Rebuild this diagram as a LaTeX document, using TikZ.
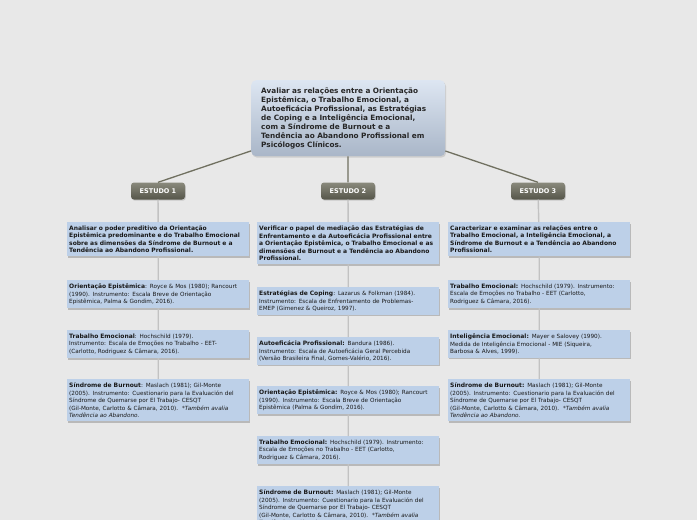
\documentclass[tikz,border=0pt]{standalone}
\usepackage{fontspec}
\setmainfont{DejaVu Sans}
\usetikzlibrary{shadows}

\definecolor{bgpage}{HTML}{E8E8E8}
\definecolor{boxblue}{HTML}{BDD0E8}
\definecolor{stemcol}{HTML}{C2C2C2}
\definecolor{trunkcol}{HTML}{707060}
\definecolor{studytop}{HTML}{8A8A7C}
\definecolor{studybot}{HTML}{55554A}
\definecolor{goaltop}{HTML}{DDE6F2}
\definecolor{goalbot}{HTML}{A9B6C8}

\newcommand{\hdr}[1]{{\fontsize{6}{7.5}\selectfont\bfseries #1}}

\begin{document}
\begin{tikzpicture}[
    x=1pt, y=-1pt,
    goal/.style={rounded corners=5pt, top color=goaltop, bottom color=goalbot, anchor=north west,
      minimum height=76pt, inner xsep=10pt, text width=174pt, align=left, text=black!85,
      font=\fontsize{7.3}{9}\selectfont\bfseries,
      drop shadow={shadow xshift=1pt, shadow yshift=-1.5pt, opacity=0.25}},
    study/.style={rounded corners=3pt, top color=studytop, bottom color=studybot,
      minimum width=54pt, minimum height=17pt, inner sep=1pt, text=white,
      font=\fontsize{6.5}{7}\selectfont\bfseries,
      drop shadow={shadow xshift=0.8pt, shadow yshift=-1.2pt, opacity=0.3}},
    card/.style={fill=boxblue, anchor=north west, inner xsep=2pt, inner ysep=3.5pt,
      text width=178pt, align=left, text=black!90,
      drop shadow={shadow xshift=0.7pt, shadow yshift=-1.6pt, fill=black!50, opacity=0.45}},
    aim/.style={card, font=\fontsize{6}{7.5}\selectfont\bfseries},
    ref/.style={card, font=\fontsize{5.7}{7.5}\selectfont},
    trunk/.style={draw=trunkcol, line width=1.3pt},
    stem/.style={draw=stemcol, line width=1.4pt},
  ]
    \clip (0,0) rectangle (697,520);
    \fill[bgpage] (0,0) rectangle (697,520);

    % Central topic
    \node[goal] (goal) at (251,80) {Avaliar as relações entre a Orientação\\
      Epistêmica, o Trabalho Emocional, a\\
      Autoeficácia Profissional, as Estratégias\\
      de Coping e a Inteligência Emocional,\\
      com a Síndrome de Burnout e a\\
      Tendência ao Abandono Profissional em\\
      Psicólogos Clínicos.};

    % Studies
    \node[study] (s1) at (158,191) {ESTUDO 1};
    \node[study] (s2) at (348,191) {ESTUDO 2};
    \node[study] (s3) at (538,191) {ESTUDO 3};

    \draw[trunk] (goal) -- (s1.north);
    \draw[trunk] (goal) -- (s2);
    \draw[trunk] (goal) -- (s3.north);

    % Estudo 1
    \node[aim] (a1) at (67,222) {Analisar o poder preditivo da Orientação\\
      Epistêmica predominante e do Trabalho Emocional\\
      sobre as dimensões da Síndrome de Burnout e a\\
      Tendência ao Abandono Profissional.};
    \node[ref] (a2) at (67,280) {\hdr{Orientação Epistêmica}: Royce \& Mos (1980); Rancourt\\
      (1990). Instrumento: Escala Breve de Orientação\\
      Epistêmica, Palma \& Gondim, 2016).};
    \node[ref] (a3) at (67,330) {\hdr{Trabalho Emocional}: Hochschild (1979).\\
      Instrumento: Escala de Emoções no Trabalho - EET-\\
      (Carlotto, Rodriguez \& Câmara, 2016).};
    \node[ref] (a4) at (67,379) {\hdr{Síndrome de Burnout}: Maslach (1981); Gil-Monte\\
      (2005). Instrumento: Cuestionario para la Evaluación del\\
      Síndrome de Quemarse por El Trabajo- CESQT\\
      (Gil-Monte, Carlotto \& Câmara, 2010).\ \ *\textit{Também avalia}\\
      \textit{Tendência ao Abandono.}};

    % Estudo 2
    \node[aim] (b1) at (257,222) {Verificar o papel de mediação das Estratégias de\\
      Enfrentamento e da Autoeficácia Profissional entre\\
      a Orientação Epistêmica, o Trabalho Emocional e as\\
      dimensões de Burnout e a Tendência ao Abandono\\
      Profissional.};
    \node[ref] (b2) at (257,287) {\hdr{Estratégias de Coping}: Lazarus \& Folkman (1984).\\
      Instrumento: Escala de Enfrentamento de Problemas-\\
      EMEP (Gimenez \& Queiroz, 1997).};
    \node[ref] (b3) at (257,337) {\hdr{Autoeficácia Profissional:} Bandura (1986).\\
      Instrumento: Escala de Autoeficácia Geral Percebida\\
      (Versão Brasileira Final, Gomes-Valério, 2016).};
    \node[ref] (b4) at (257,386) {\hdr{Orientação Epistêmica:} Royce \& Mos (1980); Rancourt\\
      (1990). Instrumento: Escala Breve de Orientação\\
      Epistêmica (Palma \& Gondim, 2016).};
    \node[ref] (b5) at (257,436) {\hdr{Trabalho Emocional:} Hochschild (1979). Instrumento:\\
      Escala de Emoções no Trabalho - EET (Carlotto,\\
      Rodriguez \& Câmara, 2016).};
    \node[ref] (b6) at (257,486) {\hdr{Síndrome de Burnout:} Maslach (1981); Gil-Monte\\
      (2005). Instrumento: Cuestionario para la Evaluación del\\
      Síndrome de Quemarse por El Trabajo- CESQT\\
      (Gil-Monte, Carlotto \& Câmara, 2010).\ \ *\textit{Também avalia}\\
      \textit{Tendência ao Abandono.}};

    % Estudo 3
    \node[aim] (c1) at (448,222) {Caracterizar e examinar as relações entre o\\
      Trabalho Emocional, a Inteligência Emocional, a\\
      Síndrome de Burnout e a Tendência ao Abandono\\
      Profissional.};
    \node[ref] (c2) at (448,280) {\hdr{Trabalho Emocional:} Hochschild (1979). Instrumento:\\
      Escala de Emoções no Trabalho - EET (Carlotto,\\
      Rodriguez \& Câmara, 2016).};
    \node[ref] (c3) at (448,330) {\hdr{Inteligência Emocional:} Mayer e Salovey (1990).\\
      Medida de Inteligência Emocional - MIE (Siqueira,\\
      Barbosa \& Alves, 1999).};
    \node[ref] (c4) at (448,379) {\hdr{Síndrome de Burnout:} Maslach (1981); Gil-Monte\\
      (2005). Instrumento: Cuestionario para la Evaluación del\\
      Síndrome de Quemarse por El Trabajo- CESQT\\
      (Gil-Monte, Carlotto \& Câmara, 2010).\ \ *\textit{Também avalia}\\
      \textit{Tendência ao Abandono.}};

    % Stems down each column
    \draw[stem] (s1) -- (a1) (a1) -- (a2) (a2) -- (a3) (a3) -- (a4);
    \draw[stem] (s2) -- (b1) (b1) -- (b2) (b2) -- (b3) (b3) -- (b4) (b4) -- (b5) (b5) -- (b6);
    \draw[stem] (s3) -- (c1) (c1) -- (c2) (c2) -- (c3) (c3) -- (c4);
  \end{tikzpicture}
\end{document}
